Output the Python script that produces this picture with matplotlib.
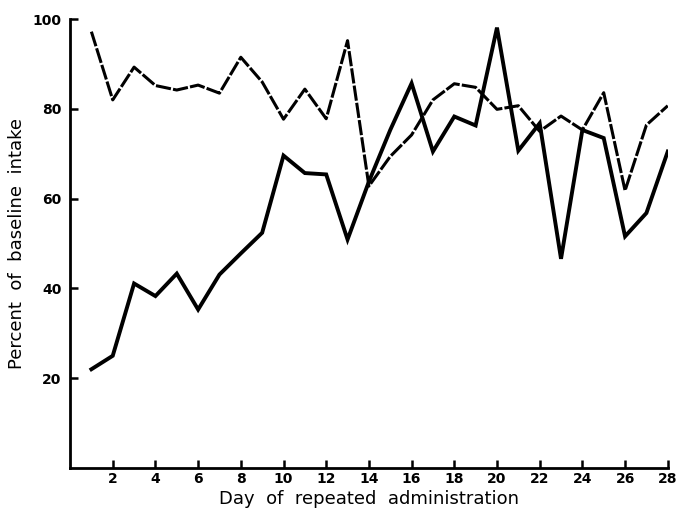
import matplotlib
matplotlib.use("Agg")
import matplotlib.pyplot as plt

days = list(range(1, 29))
solid_vals = [22.0, 25.0, 41.1, 38.3, 43.3, 35.3, 43.1, 47.8, 52.4, 69.6,
              65.7, 65.4, 50.9, 63.8, 75.3, 85.7, 70.5, 78.3, 76.3, 98.1,
              70.7, 76.8, 46.6, 75.3, 73.5, 51.6, 56.8, 70.5]
dashed_vals = [97.2, 82.0, 89.3, 85.2, 84.2, 85.3, 83.5, 91.5, 86.0, 77.7,
               84.4, 77.8, 95.2, 62.8, 69.4, 74.2, 82.0, 85.6, 84.8, 79.9,
               80.7, 75.0, 78.4, 75.3, 83.6, 61.8, 76.4, 80.7]
x_ticks = list(range(2, 29, 2))
y_ticks = [20, 40, 60, 80, 100]

fig = plt.figure(figsize=(6.8, 5.16), dpi=100)
ax = fig.add_axes([0.103, 0.093, 0.879, 0.870])

ax.plot(days, solid_vals, color="black", lw=2.8, solid_joinstyle="miter")
ax.plot(days, dashed_vals, color="black", lw=2.2, dashes=(5, 0.7))

ax.set_xlim(0, 28)
ax.set_ylim(0, 100)
ax.set_xticks(x_ticks)
ax.set_yticks(y_ticks)
ax.set_xticklabels([str(t) for t in x_ticks], fontsize=10, fontweight="bold")
ax.set_yticklabels([str(t) for t in y_ticks], fontsize=10, fontweight="bold")
ax.tick_params(axis="x", direction="in", length=6, width=1.8, pad=3)
ax.tick_params(axis="y", direction="in", length=6, width=1.8, pad=6)
for s in ["top", "right"]:
    ax.spines[s].set_visible(False)
for s in ["left", "bottom"]:
    ax.spines[s].set_linewidth(2.0)

ax.set_xlabel("Day  of  repeated  administration", fontsize=13, labelpad=3)
ax.set_ylabel("Percent  of  baseline  intake", fontsize=13, labelpad=5)

fig.savefig("out.png", dpi=100)
